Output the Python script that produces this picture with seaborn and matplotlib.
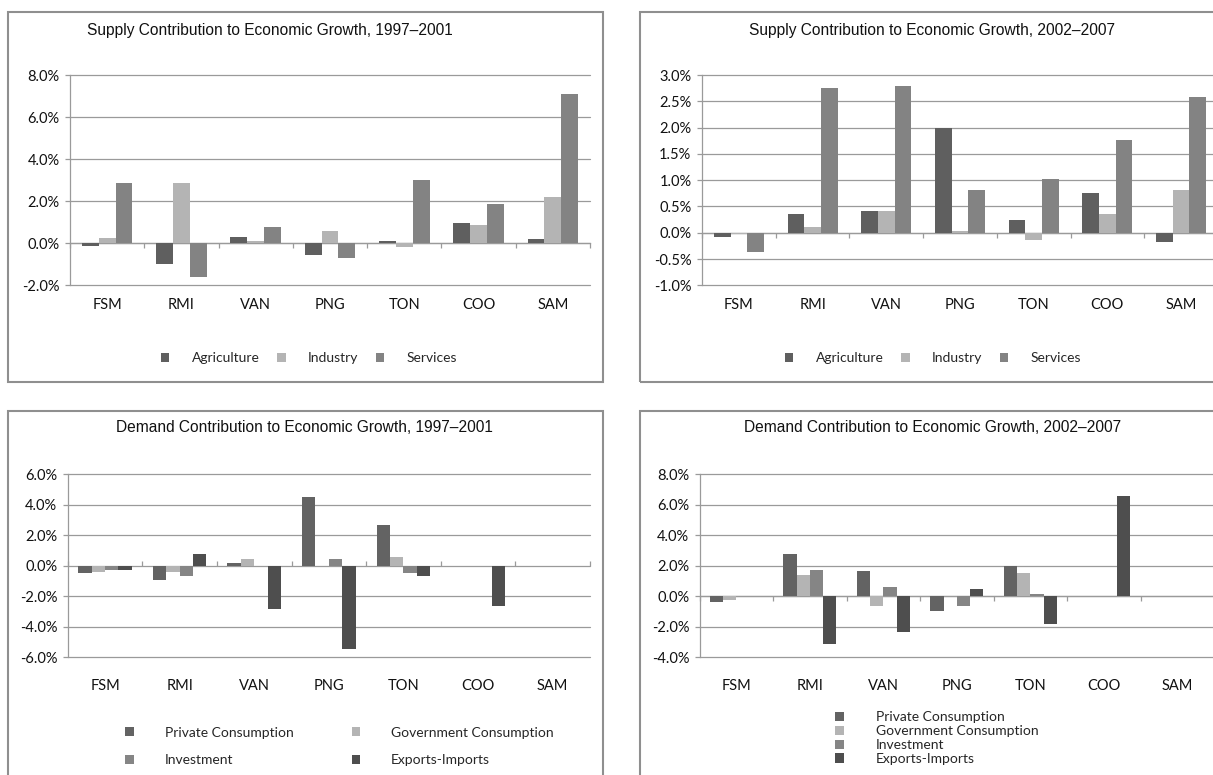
import numpy as np
import pandas as pd
import matplotlib
matplotlib.use("Agg")
import matplotlib.pyplot as plt
from matplotlib.patches import Rectangle, Patch
import seaborn as sns

# ---- data (percentage points of GDP growth) ----
countries = ["FSM", "RMI", "VAN", "PNG", "TON", "COO", "SAM"]

supply_series = ["Agriculture", "Industry", "Services"]
supply_9701_agriculture = [-0.15, -1.00, 0.32, -0.54, 0.13, 0.94, 0.18]
supply_9701_industry = [0.27, 2.86, 0.13, 0.56, -0.16, 0.85, 2.19]
supply_9701_services = [2.86, -1.60, 0.75, -0.69, 3.00, 1.85, 7.12]

supply_0207_agriculture = [-0.08, 0.35, 0.41, 2.00, 0.25, 0.75, -0.17]
supply_0207_industry = [-0.03, 0.10, 0.41, 0.04, -0.13, 0.35, 0.81]
supply_0207_services = [-0.36, 2.75, 2.80, 0.81, 1.03, 1.76, 2.59]

demand_series = ["Private Consumption", "Government Consumption",
                 "Investment", "Exports-Imports"]
demand_9701_private = [-0.50, -0.92, 0.20, 4.48, 2.64, 0.0, 0.0]
demand_9701_government = [-0.40, -0.40, 0.46, 0.0, 0.59, 0.0, 0.0]
demand_9701_investment = [-0.26, -0.66, 0.0, 0.46, -0.46, 0.0, 0.0]
demand_9701_exports_imports = [-0.26, 0.79, -2.84, -5.47, -0.66, -2.64, 0.0]

demand_0207_private = [-0.35, 2.79, 1.68, -1.00, 2.00, 0.0, 0.0]
demand_0207_government = [-0.28, 1.42, -0.61, 0.0, 1.55, 0.0, 0.0]
demand_0207_investment = [0.0, 1.74, 0.63, -0.61, 0.17, 0.0, 0.0]
demand_0207_exports_imports = [0.0, -3.16, -2.37, 0.50, -1.79, 6.58, 0.0]

yticks_supply_9701 = [-2.0, 0.0, 2.0, 4.0, 6.0, 8.0]
yticks_supply_0207 = [-1.0, -0.5, 0.0, 0.5, 1.0, 1.5, 2.0, 2.5, 3.0]
yticks_demand_9701 = [-6.0, -4.0, -2.0, 0.0, 2.0, 4.0, 6.0]
yticks_demand_0207 = [-4.0, -2.0, 0.0, 2.0, 4.0, 6.0, 8.0]

titles = ["Supply Contribution to Economic Growth, 1997\u20132001",
          "Supply Contribution to Economic Growth, 2002\u20132007",
          "Demand Contribution to Economic Growth, 1997\u20132001",
          "Demand Contribution to Economic Growth, 2002\u20132007"]

# ---- styling ----
supply_colors = ["#5f5f5f", "#b4b4b4", "#838383"]
demand_colors = ["#636363", "#b4b4b4", "#858585", "#4e4e4e"]
GRID = "#9a9a9a"
FRAME = "#8f8f8f"

sns.set_theme(style="white")
plt.rcParams["font.family"] = ["Lato", "DejaVu Sans"]

W, H = 1213, 775
fig = plt.figure(figsize=(W / 100, H / 100), dpi=100)
fig.patch.set_facecolor("white")


def px_axes(x0, y0, x1, y1):
    return fig.add_axes([x0 / W, 1 - y1 / H, (x1 - x0) / W, (y1 - y0) / H])


def frame(x0, y0, x1, y1):
    fig.add_artist(Rectangle((x0 / W, 1 - y1 / H), (x1 - x0) / W, (y1 - y0) / H,
                             transform=fig.transFigure, fill=False,
                             edgecolor=FRAME, linewidth=1.5))


def panel(ax, names, values, colors, yticks, width, label_pad):
    df = pd.DataFrame({
        "country": np.tile(countries, len(names)),
        "series": np.repeat(names, len(countries)),
        "value": np.concatenate([np.asarray(v, dtype=float) for v in values]),
    })
    sns.barplot(data=df, x="country", y="value", hue="series",
                order=countries, hue_order=names, palette=colors,
                width=width, saturation=1, linewidth=0, errorbar=None,
                legend=False, ax=ax, zorder=3)
    ymin, ymax = yticks[0], yticks[-1]
    ax.set_ylim(ymin, ymax)
    ax.set_xlim(-0.5, len(countries) - 0.5)
    ax.set_xlabel("")
    ax.set_ylabel("")
    ax.set_yticks(yticks)
    ax.set_yticklabels([f"{t:.1f}%" for t in yticks])
    ax.yaxis.grid(True, color=GRID, linewidth=0.9)
    for gl in ax.yaxis.get_gridlines():
        gl.set_clip_on(False)
    ax.set_axisbelow(True)
    for s in ["top", "right", "bottom"]:
        ax.spines[s].set_visible(False)
    ax.spines["left"].set_color(GRID)
    ax.spines["left"].set_linewidth(0.9)
    ax.tick_params(axis="y", which="major", left=True, length=3.6, width=0.9,
                   color=GRID, pad=4, labelsize=10.5, labelcolor="#111111")
    ax.tick_params(axis="x", which="major", length=0, pad=label_pad,
                   labelsize=10.5, labelcolor="#111111")
    # category axis crossing at zero, with dividers between groups
    zero = (0 - ymin) / (ymax - ymin)
    sec = ax.secondary_xaxis(zero)
    sec.set_xticks(np.arange(len(countries) + 1) - 0.5)
    sec.set_xticklabels([""] * (len(countries) + 1))
    sec.tick_params(length=3.5, width=0.9, color=GRID, direction="out")
    sec.spines["bottom"].set_color(GRID)
    sec.spines["bottom"].set_linewidth(0.9)
    for s in ["top", "left", "right"]:
        sec.spines[s].set_visible(False)


def legend(ax, names, colors, cx, cy, order=None, **kw):
    handles = [Patch(facecolor=c, edgecolor="none") for c in colors]
    labels = list(names)
    if order is not None:
        handles = [handles[i] for i in order]
        labels = [labels[i] for i in order]
    ax.legend(handles, labels, loc="center",
              bbox_to_anchor=(cx / W, 1 - cy / H), bbox_transform=fig.transFigure,
              frameon=False, handlelength=0.63, handleheight=0.63,
              prop={"family": ["Lato", "DejaVu Sans"], "size": 10}, **kw)


# frames
frame(7.7, 12, 603, 381.7)
frame(640, 12, 1240, 381.7)
frame(7.7, 410.7, 603, 790)
frame(640, 410.7, 1240, 790)

title_font = {"family": ["Liberation Sans", "DejaVu Sans"], "size": 11.2,
              "color": "#111111"}

# Supply 1997-2001
ax1 = px_axes(70, 75, 590, 285.3)
panel(ax1, supply_series,
      [supply_9701_agriculture, supply_9701_industry, supply_9701_services],
      supply_colors, yticks_supply_9701, 0.68, 9.5)
legend(ax1, supply_series, supply_colors, 309, 358, ncol=3,
       handletextpad=1.63, columnspacing=1.22)
fig.text(270 / W, 1 - 30 / H, titles[0], ha="center", va="center", **title_font)

# Supply 2002-2007
ax2 = px_axes(702, 75, 1218, 285.3)
panel(ax2, supply_series,
      [supply_0207_agriculture, supply_0207_industry, supply_0207_services],
      supply_colors, yticks_supply_0207, 0.68, 9.5)
legend(ax2, supply_series, supply_colors, 933, 358, ncol=3,
       handletextpad=1.63, columnspacing=1.22)
fig.text(932 / W, 1 - 30 / H, titles[1], ha="center", va="center", **title_font)

# Demand 1997-2001 (legend filled row by row)
ax3 = px_axes(67.7, 474, 590, 657.3)
panel(ax3, demand_series,
      [demand_9701_private, demand_9701_government,
       demand_9701_investment, demand_9701_exports_imports],
      demand_colors, yticks_demand_9701, 0.72, 15.5)
legend(ax3, demand_series, demand_colors, 339.5, 746.5, order=[0, 2, 1, 3],
       ncol=2, handletextpad=2.2, columnspacing=4.2, labelspacing=1.15)
fig.text(304 / W, 1 - 428 / H, titles[2], ha="center", va="center", **title_font)

# Demand 2002-2007
ax4 = px_axes(699.7, 474, 1214, 657.3)
panel(ax4, demand_series,
      [demand_0207_private, demand_0207_government,
       demand_0207_investment, demand_0207_exports_imports],
      demand_colors, yticks_demand_0207, 0.72, 15.5)
legend(ax4, demand_series, demand_colors, 937, 738, ncol=1,
       handletextpad=2.3, labelspacing=0.14)
fig.text(933 / W, 1 - 428 / H, titles[3], ha="center", va="center", **title_font)

fig.savefig("out.png", dpi=100, facecolor="white")
